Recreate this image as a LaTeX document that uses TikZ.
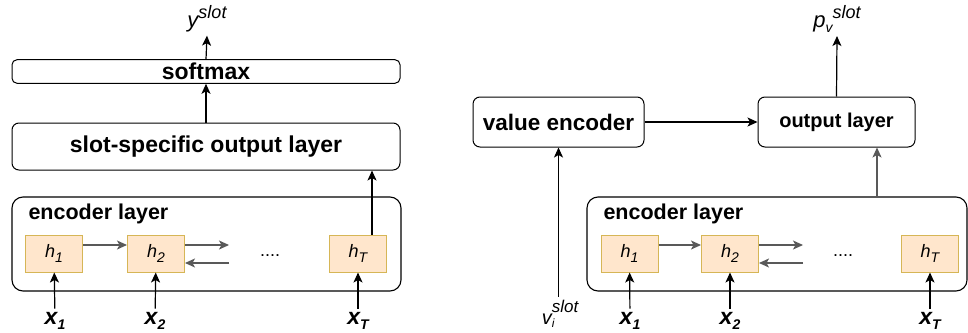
\documentclass[tikz,border=0pt]{standalone}
\usepackage{fontspec}
\setmainfont{Liberation Sans}
\usetikzlibrary{arrows.meta,positioning}
\definecolor{CellFill}{HTML}{FFE6CC}
\definecolor{CellLine}{HTML}{D6B656}
\newcommand{\slotdn}[1]{\raisebox{-0.45ex}{\fontsize{14}{14}\selectfont #1}}
\newcommand{\slotup}[1]{\raisebox{0.75ex}{\fontsize{18}{18}\selectfont #1}}
\tikzset{
  layerbox/.style={draw=black,line width=1pt,rounded corners=5pt,
    font=\fontsize{23}{26}\selectfont\bfseries},
  encbox/.style={draw=black,line width=1.1pt,rounded corners=11pt},
  cell/.style={draw=CellLine,fill=CellFill,line width=1pt,minimum width=57pt,
    minimum height=37pt,font=\fontsize{18}{20}\selectfont\itshape},
  inlbl/.style={font=\fontsize{23}{24}\selectfont\bfseries\itshape},
  outlbl/.style={font=\fontsize{22}{24}\selectfont\itshape},
  arr/.style={-{Stealth[length=10pt,width=9pt,inset=2.5pt]},line width=1.2pt},
  garr/.style={arr,draw=black!65},
}

\begin{document}
\begin{tikzpicture}[x=1pt,y=-1pt]
  \useasboundingbox (0,0) rectangle (968,332);
  % left: slot-specific classifier
  \node[layerbox,minimum width=388pt,minimum height=23pt] (softL) at (206,71.5) {softmax};
  \node[layerbox,rounded corners=7pt,minimum width=388pt,minimum height=47pt] (outL) at (206,146.5) {slot-specific output layer};
  \node[encbox,minimum width=389pt,minimum height=94pt] (encL) at (206.5,244) {};
  \node[anchor=west,font=\fontsize{21.5}{22}\selectfont\bfseries] (encLlbl) at (25,214) {encoder layer};
  \node[cell] (h1L) at (54,253.5) {h\slotdn{1}};
  \node[cell] (h2L) at (156,253.5) {h\slotdn{2}};
  \node[cell] (hTL) at (358,253.5) {h\slotdn{T}};
  \node[font=\fontsize{18}{20}\selectfont] (dotsL) at (270,256) {....};
  \coordinate (fwdL) at (229,245);
  \coordinate (bwdL) at (229,263);
  \node[inlbl] (x1L) at (55,321) {x\slotdn{1}};
  \node[inlbl] (x2L) at (155,321) {x\slotdn{2}};
  \node[inlbl] (xTL) at (358,321) {x\slotdn{T}};
  \node[outlbl] (yL) at (207,19) {y\slotup{slot}};

  \draw[arr] (x1L) -- (h1L);
  \draw[arr] (x2L) -- (h2L);
  \draw[arr] (xTL) -- (hTL);
  \draw[garr] ([yshift=8.5pt]h1L.east) -- ([yshift=8.5pt]h2L.west);
  \draw[garr] ([yshift=8.5pt]h2L.east) -- (fwdL);
  \draw[garr] (bwdL) -- ([yshift=-9.5pt]h2L.east);
  \draw[arr] ([xshift=14pt]hTL.north) -- ([xshift=14pt]hTL.north |- outL.south);
  \draw[arr] (outL.north -| softL.south) -- (softL.south);
  \draw[arr] (softL.north) -- (yL.south);

  % right: value-aware output
  \node[layerbox,rounded corners=7pt,minimum width=171pt,minimum height=50pt,
    font=\fontsize{22.5}{24}\selectfont\bfseries] (vencR) at (558.5,122) {value encoder};
  \node[layerbox,rounded corners=7pt,minimum width=157pt,minimum height=50pt,
    font=\fontsize{20}{22}\selectfont\bfseries] (outR) at (836.5,122) {output layer};
  \node[encbox,minimum width=380pt,minimum height=94pt] (encR) at (777,244) {};
  \node[anchor=west,font=\fontsize{21.5}{22}\selectfont\bfseries] (encRlbl) at (600,214) {encoder layer};
  \node[cell] (h1R) at (629.5,253.5) {h\slotdn{1}};
  \node[cell] (h2R) at (730,253.5) {h\slotdn{2}};
  \node[cell] (hTR) at (930,253.5) {h\slotdn{T}};
  \node[font=\fontsize{18}{20}\selectfont] (dotsR) at (843,256) {....};
  \coordinate (fwdR) at (803,245);
  \coordinate (bwdR) at (803,263);
  \node[inlbl] (x1R) at (630,321) {x\slotdn{1}};
  \node[inlbl] (x2R) at (730,321) {x\slotdn{2}};
  \node[inlbl] (xTR) at (930,321) {x\slotdn{T}};
  \node[outlbl,font=\fontsize{20}{22}\selectfont\itshape] (viR) at (560,314)
    {v\rlap{\raisebox{-0.35ex}{\fontsize{12}{12}\selectfont i}}\raisebox{1.1ex}{\fontsize{17}{17}\selectfont slot}};
  \node[outlbl] (pvR) at (837,19) {p\slotdn{v}\slotup{slot}};

  \draw[arr] (x1R) -- (h1R);
  \draw[arr] (x2R) -- (h2R);
  \draw[arr] (xTR) -- (hTR);
  \draw[garr] ([yshift=8.5pt]h1R.east) -- ([yshift=8.5pt]h2R.west);
  \draw[garr] ([yshift=8.5pt]h2R.east) -- (fwdR);
  \draw[garr] (bwdR) -- ([yshift=-9.5pt]h2R.east);
  \draw[arr] (viR.north -| vencR.south) -- (vencR.south);
  \draw[arr] (vencR) -- (outR);
  \draw[garr] ([xshift=40.5pt]outR.south |- encR.north) -- ([xshift=40.5pt]outR.south);
  \draw[arr] (outR.north) -- (pvR.south);
\end{tikzpicture}
\end{document}
